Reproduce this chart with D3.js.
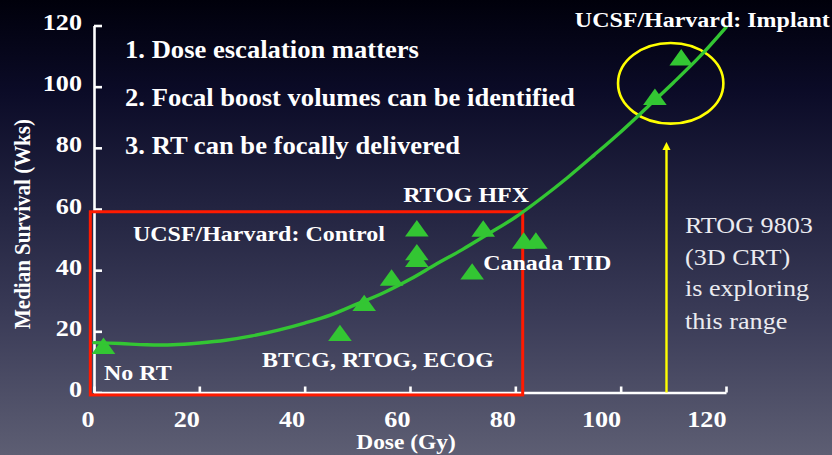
<!DOCTYPE html>
<html>
<head>
<meta charset="utf-8">
<script src="https://cdn.jsdelivr.net/npm/d3@7"></script>
<style>
  html, body { margin: 0; padding: 0; background: #000; }
  svg { display: block; }
  text { font-family: "Liberation Serif", "Times New Roman", serif; }
</style>
</head>
<body>
<svg id="chart" width="832" height="455"></svg>
<script>
// ---- data ----
const doseTicks = [0, 20, 40, 60, 80, 100, 120];
const survivalTicks = [0, 20, 40, 60, 80, 100, 120];

// published series (median survival vs. dose)
const studyDose     = [1.8, 46.7, 51.3, 56.5, 61.3, 61.3, 61.3, 73.9, 71.8, 81.6, 83.9, 106.5, 111.5];
const studySurvival = [15.3, 19.5, 29.3, 37.6, 53.7, 45.9, 43.7, 53.6, 39.6, 49.7, 49.7, 96.7, 109.6];

// dose-response trend
const fitDose     = [0, 5, 10, 15, 20, 25, 30, 35, 40, 45, 50, 55, 60, 65, 70, 75, 80, 85, 90, 95, 100, 105, 110, 115, 120];
const fitSurvival = [16.3, 16.0, 15.6, 15.6, 16.2, 17.1, 18.5, 20.4, 22.7, 25.4, 29.0, 32.6, 37.0, 42.0, 46.8, 52.0, 57.3, 63.6, 70.4, 77.7, 85.2, 93.2, 101.3, 109.8, 119.4];

// study group labels (anchored in dose / survival units)
const groupLabels   = ["UCSF/Harvard: Implant", "RTOG HFX", "UCSF/Harvard: Control", "Canada TID", "BTCG, RTOG, ECOG", "No RT"];
const groupDose     = [91.3, 58.7, 7.4, 73.9, 31.9, 1.9];
const groupSurvival = [119.5, 62.3, 49.5, 40.1, 8.3, 4.1];

// key points
const keyPoints = ["1. Dose escalation matters", "2. Focal boost volumes can be identified", "3. RT can be focally delivered"];
const keyDose = 5.9;
const keySurvival = [109.4, 93.7, 78.0];

// RTOG 9803 note
const noteLines = ["RTOG 9803", "(3D CRT)", "is exploring", "this range"];
const noteDose = 112.2;
const noteSurvival = [52.2, 41.8, 31.4, 20.9];

// highlighted regions
const conventionalDose = [-0.7, 81.4];
const conventionalSurvival = [-0.8, 59.1];
const implantCenter = [109.5, 101.1];
const implantRadius = [10, 13.2];
const exploreDose = 108.7;
const exploreSurvival = [0, 81.9];

// ---- layout ----
const W = 832, H = 455;
const stretch = 1.09;
const svg = d3.select("#chart");

const defs = svg.append("defs");
const bg = defs.append("linearGradient").attr("id", "bg")
  .attr("x1", 0).attr("y1", 0).attr("x2", 0).attr("y2", 1);
[[0, "#00000b"], [0.2, "#0b0b27"], [0.45, "#222340"], [0.7, "#3b3c58"], [1, "#5d5e73"]]
  .forEach(([o, c]) => bg.append("stop").attr("offset", o).attr("stop-color", c));
const ah = defs.append("marker").attr("id", "arrow")
  .attr("viewBox", "0 0 10 10").attr("refX", 5).attr("refY", 5)
  .attr("markerWidth", 3.4).attr("markerHeight", 3.4).attr("orient", "auto");
ah.append("path").attr("d", "M0,0 L10,5 L0,10 Z").attr("fill", "#ffff00");

svg.append("rect").attr("width", W).attr("height", H).attr("fill", "url(#bg)");

const x = d3.scaleLinear().domain([0, 120]).range([94, 726]);
const y = d3.scaleLinear().domain([0, 120]).range([392.5, 25.5]);

// helper: horizontally stretched text
function stext(g, tx, ty, str, size, weight, anchor, fill) {
  return g.append("text")
    .attr("transform", `translate(${tx},${ty}) scale(${stretch},1)`)
    .attr("font-size", size).attr("font-weight", weight)
    .attr("text-anchor", anchor || "start")
    .attr("fill", fill || "#ffffff")
    .text(str);
}

// ---- axes ----
const yAxis = svg.append("g").attr("transform", `translate(${x(0)},0)`)
  .call(d3.axisLeft(y).tickValues(survivalTicks).tickSizeInner(-8).tickSizeOuter(0).tickFormat(d3.format("d")));
const xAxis = svg.append("g").attr("transform", `translate(0,${y(0)})`)
  .call(d3.axisBottom(x).tickValues(doseTicks).tickSizeInner(-6).tickSizeOuter(0).tickFormat(d3.format("d")));
[yAxis, xAxis].forEach(a => {
  a.selectAll("path.domain, line").attr("stroke", "#ffffff").attr("stroke-width", 2.6);
  a.selectAll("text").remove();
});
yAxis.selectAll(".tick").each(function (d) {
  stext(d3.select(this), -12, 4, d, 24, "bold", "end");
});
xAxis.selectAll(".tick").each(function (d) {
  stext(d3.select(this), 0, 34.5, d, 24, "bold", "end");
});

// axis titles
svg.append("text")
  .attr("transform", `translate(30,224) scale(${stretch},1) rotate(-90)`)
  .attr("font-size", 21).attr("font-weight", "bold").attr("fill", "#ffffff")
  .attr("text-anchor", "middle").text("Median Survival (Wks)");
stext(svg, 406, 449, "Dose (Gy)", 21.5, "bold", "middle");

// ---- highlighted regions ----
svg.append("rect")
  .attr("x", x(conventionalDose[0])).attr("y", y(conventionalSurvival[1]))
  .attr("width", x(conventionalDose[1]) - x(conventionalDose[0]))
  .attr("height", y(conventionalSurvival[0]) - y(conventionalSurvival[1]))
  .attr("fill", "none").attr("stroke", "#ff1a00").attr("stroke-width", 3);

svg.append("ellipse")
  .attr("cx", x(implantCenter[0])).attr("cy", y(implantCenter[1]))
  .attr("rx", x(implantRadius[0]) - x(0)).attr("ry", y(0) - y(implantRadius[1]))
  .attr("fill", "none").attr("stroke", "#ffff00").attr("stroke-width", 2.6);

svg.append("line")
  .attr("x1", x(exploreDose)).attr("x2", x(exploreDose))
  .attr("y1", y(exploreSurvival[0])).attr("y2", y(exploreSurvival[1]) + 4)
  .attr("stroke", "#ffff00").attr("stroke-width", 2.4)
  .attr("marker-end", "url(#arrow)");

// ---- study points ----
const tri = "M-11.8,8.2 L0,-8.2 L11.8,8.2 Z";
svg.append("g").selectAll("path").data(studyDose).join("path")
  .attr("d", tri)
  .attr("transform", (d, i) => `translate(${x(d)},${y(studySurvival[i])})`)
  .attr("fill", "#33c633");

// ---- trend line ----
const line = d3.line().x(d => x(d[0])).y(d => y(d[1])).curve(d3.curveCatmullRom);
svg.append("path")
  .datum(fitDose.map((d, i) => [d, fitSurvival[i]]))
  .attr("d", line).attr("fill", "none")
  .attr("stroke", "#33c633").attr("stroke-width", 3.4).attr("stroke-linecap", "round");

// ---- text ----
groupLabels.forEach((t, i) => stext(svg, x(groupDose[i]), y(groupSurvival[i]), t, 22, "bold"));
keyPoints.forEach((t, i) => stext(svg, x(keyDose), y(keySurvival[i]), t, 24.4, "bold"));
noteLines.forEach((t, i) => stext(svg, x(noteDose), y(noteSurvival[i]), t, 24, "normal", "start", "#ebebf0"));
</script>
</body>
</html>
